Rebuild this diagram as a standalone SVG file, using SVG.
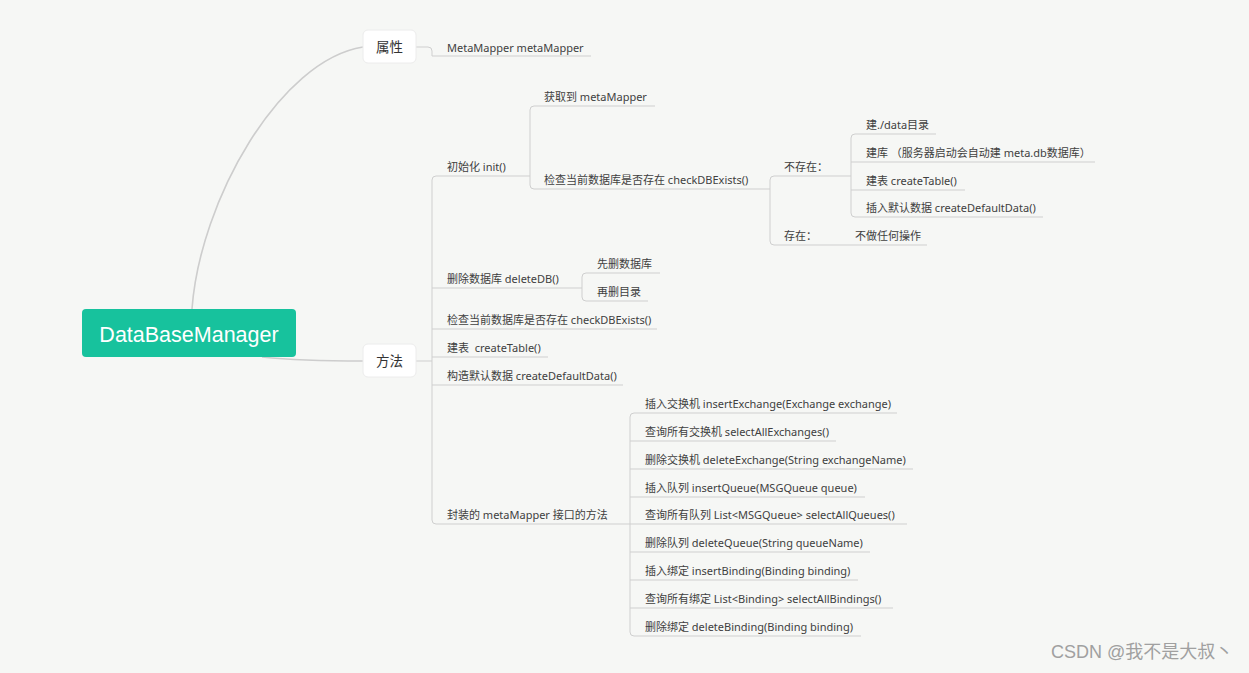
<svg xmlns="http://www.w3.org/2000/svg" width="1249" height="673" viewBox="0 0 1249 673">
<style>
.t{font-family:"Noto Sans","Noto Sans CJK SC",sans-serif;font-size:11px;fill:#404040;white-space:pre}
.n{font-family:"Noto Sans","Noto Sans CJK SC",sans-serif;font-size:13.5px;fill:#333;text-anchor:middle}
.l{fill:none;stroke:#cfcfcf;stroke-width:1}
.c{fill:none;stroke:#cdcdcd;stroke-width:1.6}
.box{fill:#fff;stroke:#ececec;stroke-width:1}
</style>
<rect width="1249" height="673" fill="#f6f7f5"/>
<g id="connectors">
<path class="c" d="M192,309 C200,200 280,60 363,47"/>
<path class="c" d="M262,357 C300,361 330,361 363,361"/>
<path class="l" d="M416,47 H428 Q432,47 432,51 V56 H591"/>
<path class="l" d="M416,361 H432"/>
<path class="l" d="M530,176 H436 Q432,176 432,180 V520 Q432,524 436,524 H630"/>
<path class="l" d="M432,288 H582"/>
<path class="l" d="M432,329 H657"/>
<path class="l" d="M432,357 H548"/>
<path class="l" d="M432,385 H623"/>
<path class="l" d="M655,106 H534 Q530,106 530,110 V185 Q530,189 534,189 H770"/>
<path class="l" d="M851,176 H774 Q770,176 770,180 V241 Q770,245 774,245 H927"/>
<path class="l" d="M936,134 H855 Q851,134 851,138 V213 Q851,217 855,217 H1043"/>
<path class="l" d="M851,162 H1095"/>
<path class="l" d="M851,190 H965"/>
<path class="l" d="M660,273 H586 Q582,273 582,277 V297 Q582,301 586,301 H648"/>
<path class="l" d="M897,413 H634 Q630,413 630,417 V632 Q630,636 634,636 H861"/>
<path class="l" d="M630,441 H836"/>
<path class="l" d="M630,469 H913"/>
<path class="l" d="M630,497 H865"/>
<path class="l" d="M630,524 H907"/>
<path class="l" d="M630,552 H870"/>
<path class="l" d="M630,580 H858"/>
<path class="l" d="M630,608 H893"/>
</g>
<g id="root">
<rect x="82" y="309" width="214" height="48" rx="4" fill="#17c29d"/>
<text x="189" y="342" font-family="Liberation Sans,sans-serif" font-size="21.5" fill="#fff" text-anchor="middle">DataBaseManager</text>
</g>
<g id="shuxing">
<rect class="box" x="363" y="30" width="53" height="33" rx="5"/>
<text class="n" x="389.5" y="52">属性</text>
</g>
<g id="fangfa">
<rect class="box" x="363" y="344" width="53" height="33" rx="5"/>
<text class="n" x="389.5" y="366">方法</text>
</g>
<g id="metamapper"><text class="t" x="447" y="51.5">MetaMapper metaMapper</text></g>
<g id="init"><text class="t" x="447" y="171">初始化 init()</text></g>
<g id="get"><text class="t" x="544" y="101">获取到 metaMapper</text></g>
<g id="check1"><text class="t" x="544" y="184">检查当前数据库是否存在 checkDBExists()</text></g>
<g id="notexist"><text class="t" x="784" y="171">不存在：</text></g>
<g id="exist"><text class="t" x="784" y="240">存在：</text></g>
<g id="nothing"><text class="t" x="855" y="240">不做任何操作</text></g>
<g id="mkdir"><text class="t" x="866" y="129">建./data目录</text></g>
<g id="mkdb"><text class="t" x="866" y="157">建库 （服务器启动会自动建 meta.db数据库）</text></g>
<g id="mktable"><text class="t" x="866" y="185">建表 createTable()</text></g>
<g id="insdefault"><text class="t" x="866" y="212">插入默认数据 createDefaultData()</text></g>
<g id="deletedb"><text class="t" x="447" y="283">删除数据库 deleteDB()</text></g>
<g id="deldb"><text class="t" x="597" y="268">先删数据库</text></g>
<g id="deldir"><text class="t" x="597" y="296">再删目录</text></g>
<g id="check2"><text class="t" x="447" y="324">检查当前数据库是否存在 checkDBExists()</text></g>
<g id="createtable"><text class="t" x="447" y="352">建表  createTable()</text></g>
<g id="createdefault"><text class="t" x="447" y="380">构造默认数据 createDefaultData()</text></g>
<g id="wrap"><text class="t" x="447" y="519">封装的 metaMapper 接口的方法</text></g>
<g id="m1"><text class="t" x="645" y="408">插入交换机 insertExchange(Exchange exchange)</text></g>
<g id="m2"><text class="t" x="645" y="436">查询所有交换机 selectAllExchanges()</text></g>
<g id="m3"><text class="t" x="645" y="464">删除交换机 deleteExchange(String exchangeName)</text></g>
<g id="m4"><text class="t" x="645" y="492">插入队列 insertQueue(MSGQueue queue)</text></g>
<g id="m5"><text class="t" x="645" y="519">查询所有队列 List&lt;MSGQueue&gt; selectAllQueues()</text></g>
<g id="m6"><text class="t" x="645" y="547">删除队列 deleteQueue(String queueName)</text></g>
<g id="m7"><text class="t" x="645" y="575">插入绑定 insertBinding(Binding binding)</text></g>
<g id="m8"><text class="t" x="645" y="603">查询所有绑定 List&lt;Binding&gt; selectAllBindings()</text></g>
<g id="m9"><text class="t" x="645" y="631">删除绑定 deleteBinding(Binding binding)</text></g>
<text x="1051" y="658" font-family="Liberation Sans,Noto Sans CJK SC,sans-serif" font-size="18" fill="#a0a0a0">CSDN @我不是大叔丶</text>
</svg>
